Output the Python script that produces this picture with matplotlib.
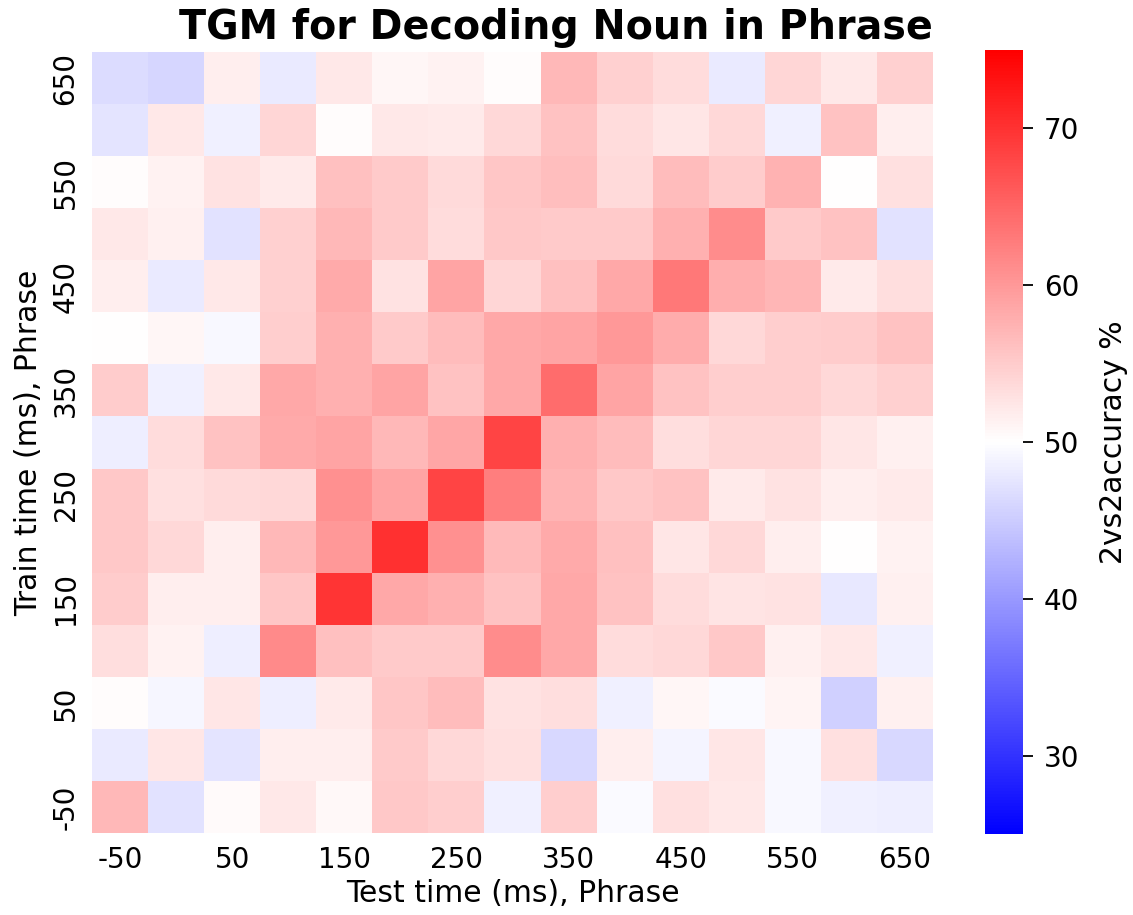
import numpy as np
import matplotlib
matplotlib.use("Agg")
import matplotlib.pyplot as plt
import seaborn as sns

# test / train window starts (ms)
test_times = [-50, 0, 50, 100, 150, 200, 250, 300, 350, 400, 450, 500, 550, 600, 650]
train_times = test_times[::-1]  # rows from top (650) to bottom (-50)

# 2vs2 accuracy (%), one row per train time, top row = 650 ms
acc = [
    [46.5, 46.0, 51.7, 47.9, 52.2, 50.9, 51.2, 50.3, 57.0, 54.5, 53.5, 47.9, 54.0, 52.2, 54.5],  # 650
    [47.3, 52.2, 48.6, 54.0, 50.3, 52.2, 52.0, 53.8, 55.9, 53.5, 52.5, 53.9, 48.6, 55.9, 51.7],  # 600
    [50.3, 51.2, 52.9, 52.0, 56.2, 55.2, 53.6, 55.6, 56.4, 53.6, 56.6, 55.0, 57.5, 50.1, 53.1],  # 550
    [52.2, 51.5, 47.1, 54.6, 57.0, 55.2, 53.5, 55.4, 55.2, 55.2, 57.7, 61.3, 55.2, 56.0, 47.1],  # 500
    [51.7, 47.9, 52.2, 54.6, 58.3, 52.9, 58.9, 54.0, 56.2, 58.5, 63.2, 57.9, 57.1, 52.0, 53.3],  # 450
    [50.0, 50.9, 49.4, 54.8, 57.7, 55.2, 56.6, 58.5, 58.9, 60.1, 58.1, 53.8, 54.8, 55.0, 55.9],  # 400
    [55.0, 48.6, 52.2, 58.5, 57.7, 58.9, 55.9, 58.5, 64.4, 58.9, 55.9, 54.8, 54.8, 53.9, 54.6],  # 350
    [48.3, 53.5, 55.9, 58.3, 58.9, 56.9, 58.7, 68.3, 57.7, 56.6, 53.3, 54.0, 54.0, 52.5, 51.5],  # 300
    [55.4, 53.1, 53.6, 53.9, 60.9, 58.9, 68.3, 62.5, 57.4, 55.4, 55.9, 52.0, 52.9, 51.7, 52.1],  # 250
    [55.4, 53.9, 51.7, 56.9, 60.0, 70.3, 60.9, 56.8, 58.3, 56.2, 52.5, 53.8, 51.7, 50.0, 51.2],  # 200
    [55.0, 51.7, 51.7, 55.6, 69.9, 58.5, 57.7, 55.9, 58.5, 55.9, 53.5, 52.7, 52.9, 47.7, 51.4],  # 150
    [53.3, 51.2, 48.3, 61.4, 56.2, 55.2, 55.2, 61.3, 58.5, 53.5, 53.8, 55.4, 51.5, 52.2, 48.5],  # 100
    [50.2, 49.2, 52.5, 48.3, 52.0, 55.6, 56.6, 52.9, 53.3, 48.5, 50.9, 49.6, 51.1, 45.4, 51.5],  # 50
    [47.9, 52.5, 47.3, 51.7, 51.7, 55.2, 53.9, 53.1, 46.2, 51.7, 49.0, 52.5, 49.3, 53.1, 46.2],  # 0
    [56.9, 47.1, 50.5, 52.2, 50.7, 55.4, 54.8, 48.6, 54.8, 49.6, 53.1, 52.2, 49.3, 48.5, 48.3],  # -50
]

fig = plt.figure(figsize=(11.33, 9.15), dpi=100)
ax = fig.add_axes([92/1133, 1-833/915, (933-92)/1133, (833-52)/915])
cax = fig.add_axes([985/1133, 1-834/915, 38/1133, (834-50)/915])

sns.heatmap(np.array(acc), ax=ax, cbar_ax=cax, cmap="bwr", vmin=25, vmax=75,
            xticklabels=[str(t) for t in test_times],
            yticklabels=[str(t) for t in train_times])

# only every other label, like the original
ax.set_xticks(np.arange(0, 15, 2) + 0.5)
ax.set_xticklabels([str(t) for t in test_times[::2]], rotation=0, fontsize=20)
ax.set_yticks(np.arange(0, 15, 2) + 0.5)
ax.set_yticklabels([str(t) for t in train_times[::2]], rotation=90, fontsize=20, va="center")
ax.tick_params(length=0, pad=9)

ax.set_xlabel("Test time (ms), Phrase", fontsize=21.5, labelpad=4)
ax.set_ylabel("Train time (ms), Phrase", fontsize=21.5, labelpad=6)
ax.set_title("TGM for Decoding Noun in Phrase", fontsize=28.5, fontweight="bold",
             x=0.552, pad=9)

cax.tick_params(labelsize=20, length=7, width=1.3, pad=8)
cax.set_ylabel("2vs2accuracy %", fontsize=21.5, labelpad=14)

fig.savefig("out.png", dpi=100)
